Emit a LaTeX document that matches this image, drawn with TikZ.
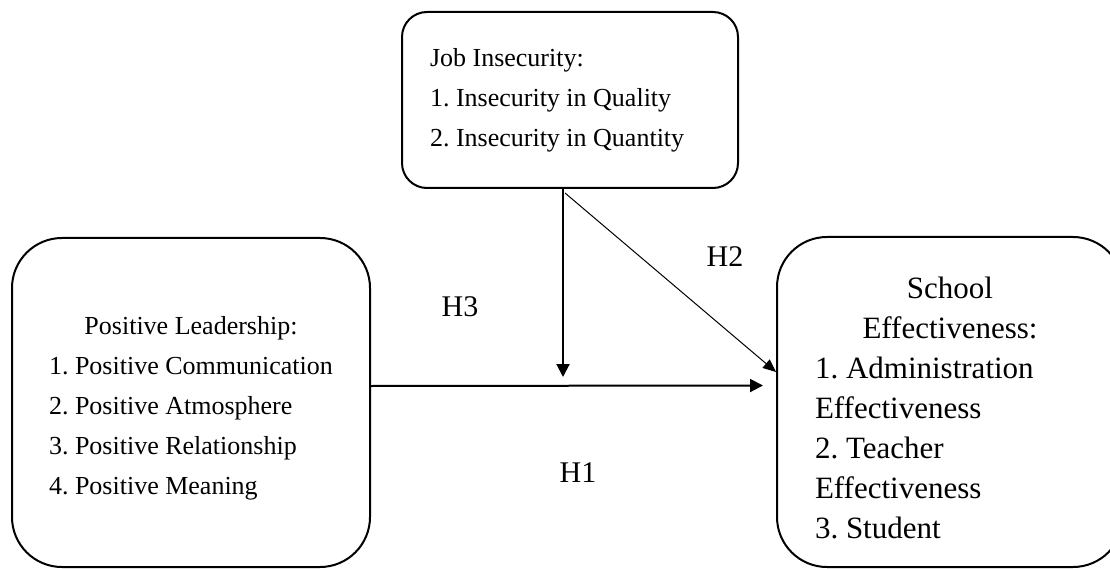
\documentclass[tikz,border=0pt]{standalone}
\usepackage{fontspec}
\setmainfont{Liberation Serif}
\usetikzlibrary{arrows.meta, positioning}
\newcommand{\topgap}[1]{\rule{0pt}{#1}}

\begin{document}
\begin{tikzpicture}[
    x=1pt, y=-1pt,
    varbox/.style={rectangle, rounded corners=#1, draw=black, line width=2pt, align=flush left},
    varbox/.default=50pt,
    arrow/.style={-{Triangle[length=13pt, width=13pt]}, line width=2pt},
    thinarrow/.style={-{Triangle[length=13pt, width=11pt]}, line width=1pt},
    hyp/.style={font=\fontsize{30}{36}\selectfont}
]
\clip (0,0) rectangle (1110,569);

% Variables
\node[varbox=25pt, minimum width=336pt, minimum height=176pt, text width=280pt, font=\fontsize{26}{40}\selectfont\frenchspacing] (job) at (570,100) {Job Insecurity:\\1. Insecurity in Quality\\2. Insecurity in Quantity\\[-6pt]};
\node[varbox, minimum width=358pt, minimum height=329pt, text width=284pt, font=\fontsize{26}{40}\selectfont\frenchspacing] (lead) at (191,402.5) {\topgap{30pt}\hspace*{\fill}Positive Leadership:\hspace*{\fill}\null\\1. Positive Communication\\2. Positive Atmosphere\\3. Positive Relationship\\4. Positive Meaning};
\node[varbox, minimum width=346pt, minimum height=330pt, text width=270pt, font=\fontsize{31}{40}\selectfont\frenchspacing] (school) at (950,402) {\topgap{33pt}\hspace*{\fill}School\hspace*{\fill}\null\\\hspace*{\fill}Effectiveness:\hspace*{\fill}\null\\1. Administration\\Effectiveness\\2. Teacher\\Effectiveness\\3. Student};

% Hypotheses
\node[hyp] (h1) at (578,473) {H1};
\node[hyp] (h2) at (725,257) {H2};
\node[hyp] (h3) at (460,307) {H3};

% Connections
\coordinate (meet) at (563,386);
\draw[arrow] ([yshift=16.5pt]lead.east) -- ([yshift=16.5pt, xshift=-13pt]school.west);
\draw[arrow] (job.south -| meet) -- ([yshift=9pt]meet);
\draw[thinarrow] ([xshift=-5pt, yshift=-4pt]job.south) -- ([yshift=30pt]school.west);
\end{tikzpicture}
\end{document}
